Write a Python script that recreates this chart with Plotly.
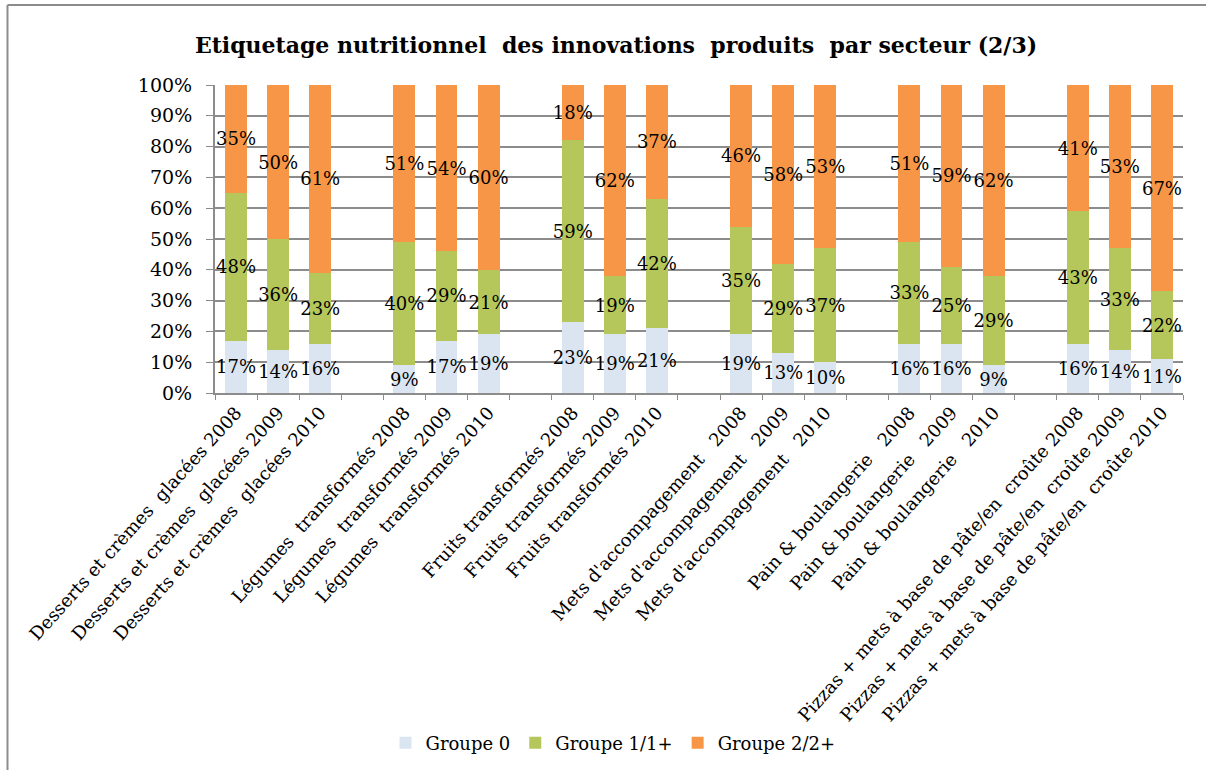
import plotly.graph_objects as go

NBSP = "\u00a0"

# Sectors and years shown on the category axis
sectors = [
    "Desserts et crèmes " + NBSP + "glacées",
    "Légumes " + NBSP + "transformés",
    "Fruits transformés",
    "Mets d'accompagement " + NBSP,
    "Pain & boulangerie " + NBSP,
    "Pizzas + mets à base de pâte/en " + NBSP + "croûte",
]
years = ["2008", "2009", "2010"]

# Share of new products per labelling group (%), one value per sector/year
groupe_0 = [17, 14, 16, 9, 17, 19, 23, 19, 21, 19, 13, 10, 16, 16, 9, 16, 14, 11]
groupe_1 = [48, 36, 23, 40, 29, 21, 59, 19, 42, 35, 29, 37, 33, 25, 29, 43, 33, 22]
groupe_2 = [35, 50, 61, 51, 54, 60, 18, 62, 37, 46, 58, 53, 51, 59, 62, 41, 53, 67]

series_names = ["Groupe 0", "Groupe 1/1+", "Groupe 2/2+"]
series_values = [groupe_0, groupe_1, groupe_2]
series_colors = ["#DBE5F1", "#B5C75A", "#F79646"]

# Build the category axis: three bars per sector, one empty slot between sectors
categories = []
slot_index = []  # position in the data arrays, or None for a spacer slot
k = 0
for s_i, sector in enumerate(sectors):
    for year in years:
        categories.append(sector + " " + year)
        slot_index.append(k)
        k += 1
    if s_i < len(sectors) - 1:
        categories.append("\u200b" * (s_i + 1))
        slot_index.append(None)

serif = "DejaVu Serif"
grid_col = "#8C8C8C"

fig = go.Figure()
for name, vals, col in zip(series_names, series_values, series_colors):
    y = [vals[i] if i is not None else None for i in slot_index]
    txt = [f"{vals[i]}%" if i is not None else "" for i in slot_index]
    fig.add_trace(go.Bar(
        x=categories, y=y, name=name,
        marker=dict(color=col, line=dict(width=0)),
        text=txt, textposition="inside", textangle=0,
        insidetextanchor="middle", constraintext="none",
        textfont=dict(family=serif, size=18, color="black"),
        cliponaxis=False,
    ))

W, H = 1207, 771
L, R, T = 215, 24, 85
B = H - 393
pw, ph = W - L - R, H - T - B

def px_x(v):
    return (v - L) / pw

def px_y(v):
    return (H - B - v) / ph

# Chart frame: only its top and left edges fall inside the page
frame = dict(color="#8C8C8C", width=2)
shapes = [
    dict(type="line", xref="paper", yref="paper", layer="below",
         x0=px_x(7.5), x1=px_x(W - 1), y0=px_y(5), y1=px_y(5), line=frame),
    dict(type="line", xref="paper", yref="paper", layer="below",
         x0=px_x(7.5), x1=px_x(7.5), y0=px_y(5), y1=px_y(H - 1), line=frame),
]

fig.update_layout(
    width=W, height=H,
    margin=dict(l=L, r=R, t=T, b=B, autoexpand=False),
    barmode="stack", bargap=0.48,
    paper_bgcolor="white", plot_bgcolor="white",
    title=dict(
        text="<b>Etiquetage nutritionnel " + NBSP + "des innovations " + NBSP
             + "produits " + NBSP + "par secteur (2/3)</b>",
        x=616 / W, xanchor="center", xref="container",
        y=1 - 45 / H, yanchor="middle", yref="container",
        font=dict(family=serif, size=22, color="black"),
    ),
    showlegend=True,
    legend=dict(
        orientation="h", x=px_x(613), xanchor="center",
        y=px_y(743), yanchor="middle",
        font=dict(family=serif, size=18, color="black"),
        traceorder="normal", itemwidth=30,
    ),
    shapes=shapes,
)

fig.update_xaxes(
    type="category", categoryorder="array", categoryarray=categories,
    tickson="boundaries", ticks="outside", ticklen=5, tickcolor=grid_col,
    showline=True, linecolor=grid_col, linewidth=2,
    showgrid=False, tickangle=-48,
    tickfont=dict(family=serif, size=18, color="black"),
)
fig.update_yaxes(
    range=[0, 100], dtick=10, ticksuffix="%",
    ticks="outside", ticklen=7, tickcolor=grid_col,
    showline=True, linecolor=grid_col, linewidth=2,
    showgrid=True, gridcolor=grid_col, gridwidth=2,
    zeroline=False, ticklabelstandoff=10,
    tickfont=dict(family=serif, size=19, color="black"),
)

fig.write_html("out.html")
